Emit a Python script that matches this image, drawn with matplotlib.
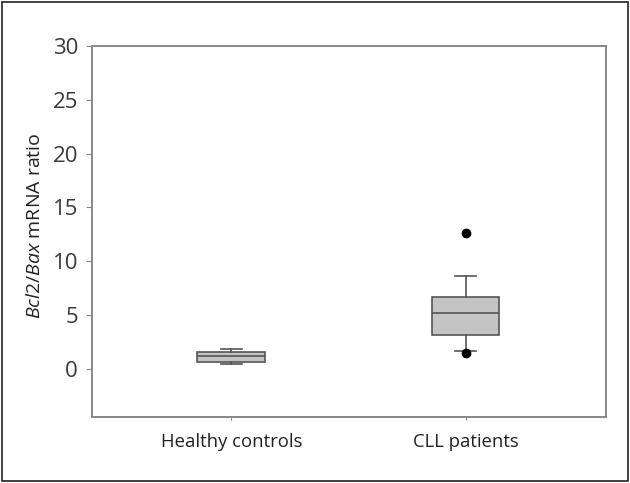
import matplotlib
matplotlib.use("Agg")
import matplotlib.pyplot as plt
from matplotlib.patches import Rectangle

plt.rcParams['font.family'] = ['Open Sans', 'DejaVu Sans']
plt.rcParams['mathtext.fontset'] = 'custom'
plt.rcParams['mathtext.rm'] = 'Open Sans'
plt.rcParams['mathtext.it'] = 'Open Sans:italic'

# box statistics
groups = ['Healthy controls', 'CLL patients']
medians = [1.2, 5.2]
q1 = [0.65, 3.1]
q3 = [1.55, 6.7]
whisker_lo = [0.4, 1.65]
whisker_hi = [1.85, 8.65]
outliers = [[], [12.6, 1.45]]

stats = []
for i in range(len(groups)):
    stats.append({'label': groups[i], 'med': medians[i], 'q1': q1[i], 'q3': q3[i],
                  'whislo': whisker_lo[i], 'whishi': whisker_hi[i], 'fliers': outliers[i]})

fig = plt.figure(figsize=(6.3, 4.83), dpi=100)
ax = fig.add_axes([0.146, 0.1366, 0.816, 0.768])

edge = '#555555'
ax.bxp(stats, positions=[1, 2], widths=0.29, patch_artist=True,
       boxprops=dict(facecolor='#c4c4c4', edgecolor=edge, linewidth=1.2),
       medianprops=dict(color=edge, linewidth=1.2),
       whiskerprops=dict(color=edge, linewidth=1.2),
       capprops=dict(color=edge, linewidth=1.2),
       capwidths=0.09,
       flierprops=dict(marker='o', markerfacecolor='black', markeredgecolor='black', markersize=6))

ax.set_xlim(0.405, 2.6)
ax.set_ylim(-4.5, 30)
ax.set_yticks([0, 5, 10, 15, 20, 25, 30])
ax.tick_params(axis='y', direction='out', length=4, color='#888888', labelsize=16,
               labelcolor='#3a3a3a', pad=6)
ax.tick_params(axis='x', direction='out', length=2.5, color='#888888', labelsize=13.3,
               labelcolor='#222222', pad=9)
for s in ax.spines.values():
    s.set_color('#888888')
    s.set_linewidth(1.4)

ax.set_ylabel(r'$\mathit{Bcl2/Bax}$ mRNA ratio', fontsize=14, color='#222222', labelpad=5)
ax.yaxis.set_label_coords(-0.093, 0.515)

# outer frame around the whole figure
fig.patches.append(Rectangle((0.003, 0.004), 0.994, 0.992, transform=fig.transFigure,
                             fill=False, edgecolor='#222222', linewidth=1.2))

fig.savefig('out.png', dpi=100)
